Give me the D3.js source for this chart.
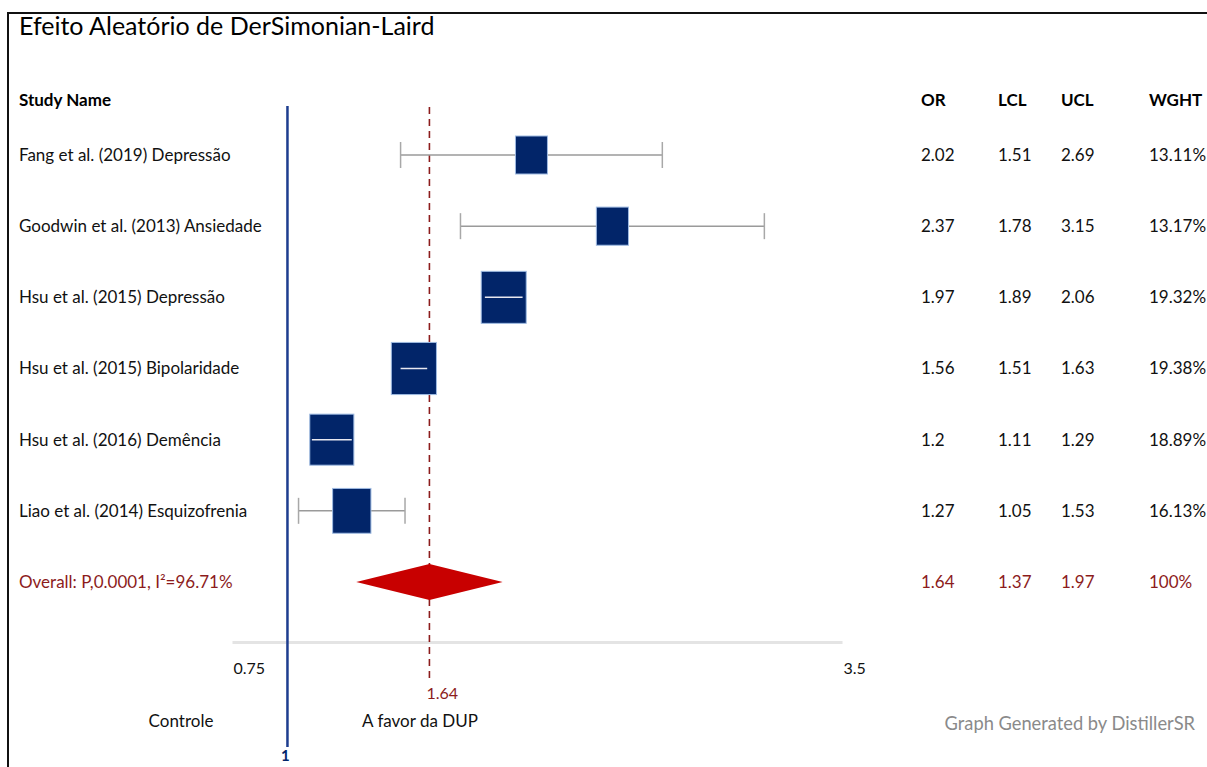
<!DOCTYPE html>
<html>
<head>
<meta charset="utf-8">
<script src="https://cdn.jsdelivr.net/npm/d3@7"></script>
<style>
  html, body { margin: 0; padding: 0; background: #fff; }
  svg { display: block; font-family: Lato, "Open Sans", sans-serif; }
</style>
</head>
<body>
<svg id="chart" width="1207" height="767"></svg>
<script>
// Study rows of the forest plot
const studies = [
  "Fang et al. (2019) Depressão",
  "Goodwin et al. (2013) Ansiedade",
  "Hsu et al. (2015) Depressão",
  "Hsu et al. (2015) Bipolaridade",
  "Hsu et al. (2016) Demência",
  "Liao et al. (2014) Esquizofrenia"
];
const oddsRatio = [2.02, 2.37, 1.97, 1.56, 1.2, 1.27];
const lowerCL   = [1.51, 1.78, 1.89, 1.51, 1.11, 1.05];
const upperCL   = [2.69, 3.15, 2.06, 1.63, 1.29, 1.53];
const weights   = [13.11, 13.17, 19.32, 19.38, 18.89, 16.13];

// Pooled estimate
const overallLabel = "Overall: P,0.0001, I²=96.71%";
const overallOR  = 1.64;
const overallLCL = 1.37;
const overallUCL = 1.97;
const overallWeight = "100%";

const columnHeaders = ["OR", "LCL", "UCL", "WGHT"];
const axisTicks = [0.75, 3.5];
const nullValue = 1;

const svg = d3.select("#chart");
const navy = "#022569";
const darkRed = "#8c1c1c";
const FS = 17;

// Scales
const x = d3.scaleLinear().domain([0.75, 3.5]).range([232, 842]);
const rowKeys = studies.concat([overallLabel]);
const y = d3.scalePoint().domain(rowKeys).range([155, 582]);
const boxH = d3.scaleLinear().domain([13.11, 19.32]).range([38, 52]);
const boxW = d3.scaleLinear().domain([13.11, 19.32]).range([32, 45]);

// Frame
svg.append("path")
  .attr("d", "M8,767 V13 H1207")
  .attr("fill", "none").attr("stroke", "#111").attr("stroke-width", 2);

// Title
svg.append("text")
  .attr("x", 19).attr("y", 35)
  .attr("font-size", 25).attr("fill", "#000")
  .text("Efeito Aleatório de DerSimonian-Laird");

// Header row
svg.append("text")
  .attr("x", 19).attr("y", 100).attr("dy", "0.35em")
  .attr("font-size", FS).attr("font-weight", "bold")
  .text("Study Name");

const colX = [921, 998, 1061, 1149];
svg.selectAll("text.colhead").data(columnHeaders).join("text")
  .attr("class", "colhead")
  .attr("x", (d, i) => colX[i]).attr("y", 100).attr("dy", "0.35em")
  .attr("font-size", FS).attr("font-weight", "bold")
  .text(d => d);

// Axis along the bottom
const axis = d3.axisBottom(x).tickValues(axisTicks).tickSize(0).tickSizeOuter(0)
  .tickPadding(21).tickFormat(d => String(d));
const axG = svg.append("g").attr("transform", "translate(0,642)").call(axis);
axG.select(".domain").attr("stroke", "#e4e4e4").attr("stroke-width", 3);
axG.selectAll("text")
  .attr("font-family", "Lato, 'Open Sans', sans-serif")
  .attr("font-size", 16).attr("fill", "#111")
  .attr("text-anchor", "start").attr("dx", 1);

// Line of no effect
svg.append("line")
  .attr("x1", x(nullValue)).attr("x2", x(nullValue))
  .attr("y1", 106).attr("y2", 747)
  .attr("stroke", "#1d3d8f").attr("stroke-width", 2.5);
svg.append("text")
  .attr("x", x(nullValue) - 2).attr("y", 761)
  .attr("text-anchor", "middle").attr("font-size", 15).attr("font-weight", "bold")
  .attr("fill", navy).text("1");

// Pooled estimate reference line
svg.append("line")
  .attr("x1", x(overallOR)).attr("x2", x(overallOR))
  .attr("y1", 107).attr("y2", 680)
  .attr("stroke", darkRed).attr("stroke-width", 1.6)
  .attr("stroke-dasharray", "7,5");
svg.append("text")
  .attr("x", x(overallOR) - 3).attr("y", 693).attr("dy", "0.35em")
  .attr("font-size", 16).attr("fill", darkRed)
  .text(String(overallOR));

// Study rows
const rows = studies.map((s, i) => ({
  name: s, or: oddsRatio[i], lcl: lowerCL[i], ucl: upperCL[i], w: weights[i]
}));

const g = svg.append("g");
rows.forEach(d => {
  const cy = y(d.name);
  const cx = x((d.lcl + d.ucl) / 2);
  const h = boxH(d.w), w = boxW(d.w);
  const x1 = x(d.lcl), x2 = x(d.ucl);
  const inside = x1 >= cx - w / 2 && x2 <= cx + w / 2;

  if (!inside) {
    g.append("line").attr("x1", x1).attr("x2", x2).attr("y1", cy).attr("y2", cy)
      .attr("stroke", "#9a9a9a").attr("stroke-width", 1.5);
    [x1, x2].forEach(xx => {
      g.append("line").attr("x1", xx).attr("x2", xx)
        .attr("y1", cy - 13).attr("y2", cy + 13)
        .attr("stroke", "#a8a8a8").attr("stroke-width", 1.5);
    });
  }
  g.append("rect")
    .attr("x", cx - w / 2).attr("y", cy - h / 2)
    .attr("width", w).attr("height", h)
    .attr("fill", navy).attr("stroke", "#9fbbe2").attr("stroke-width", 1);
  if (inside) {
    g.append("line").attr("x1", x1).attr("x2", x2).attr("y1", cy).attr("y2", cy)
      .attr("stroke", "#e8e8f0").attr("stroke-width", 1.5);
  }
});

// Pooled diamond
const oy = y(overallLabel);
const half = overallUCL - overallOR;
const diamond = [
  [x(overallOR - half), oy],
  [x(overallOR), oy - 18],
  [x(overallUCL), oy],
  [x(overallOR), oy + 18]
];
svg.append("path")
  .attr("d", d3.line()(diamond) + "Z")
  .attr("fill", "#c80000");

// Row labels and numbers
svg.selectAll("text.study").data(rows).join("text")
  .attr("class", "study")
  .attr("x", 19).attr("y", d => y(d.name)).attr("dy", "0.35em")
  .attr("font-size", FS).attr("fill", "#111")
  .text(d => d.name);

const fmtW = d => d.toFixed(2) + "%";
rows.forEach(d => {
  const vals = [String(d.or), String(d.lcl), String(d.ucl), fmtW(d.w)];
  vals.forEach((v, i) => {
    svg.append("text")
      .attr("x", colX[i]).attr("y", y(d.name)).attr("dy", "0.35em")
      .attr("font-size", FS).attr("fill", "#111").text(v);
  });
});

svg.append("text")
  .attr("x", 19).attr("y", oy).attr("dy", "0.35em")
  .attr("font-size", FS).attr("fill", darkRed).text(overallLabel);
[String(overallOR), String(overallLCL), String(overallUCL), overallWeight].forEach((v, i) => {
  svg.append("text")
    .attr("x", colX[i]).attr("y", oy).attr("dy", "0.35em")
    .attr("font-size", FS).attr("fill", darkRed).text(v);
});

// Direction labels
svg.append("text")
  .attr("x", 181).attr("y", 721).attr("dy", "0.35em")
  .attr("text-anchor", "middle").attr("font-size", FS).attr("fill", "#111")
  .text("Controle");
svg.append("text")
  .attr("x", 420).attr("y", 721).attr("dy", "0.35em")
  .attr("text-anchor", "middle").attr("font-size", FS).attr("fill", "#111")
  .text("A favor da DUP");

// Credit line
svg.append("text")
  .attr("x", 1195).attr("y", 724).attr("dy", "0.35em")
  .attr("text-anchor", "end").attr("font-size", 18.3).attr("fill", "#8a8a8a")
  .text("Graph Generated by DistillerSR");
</script>
</body>
</html>
